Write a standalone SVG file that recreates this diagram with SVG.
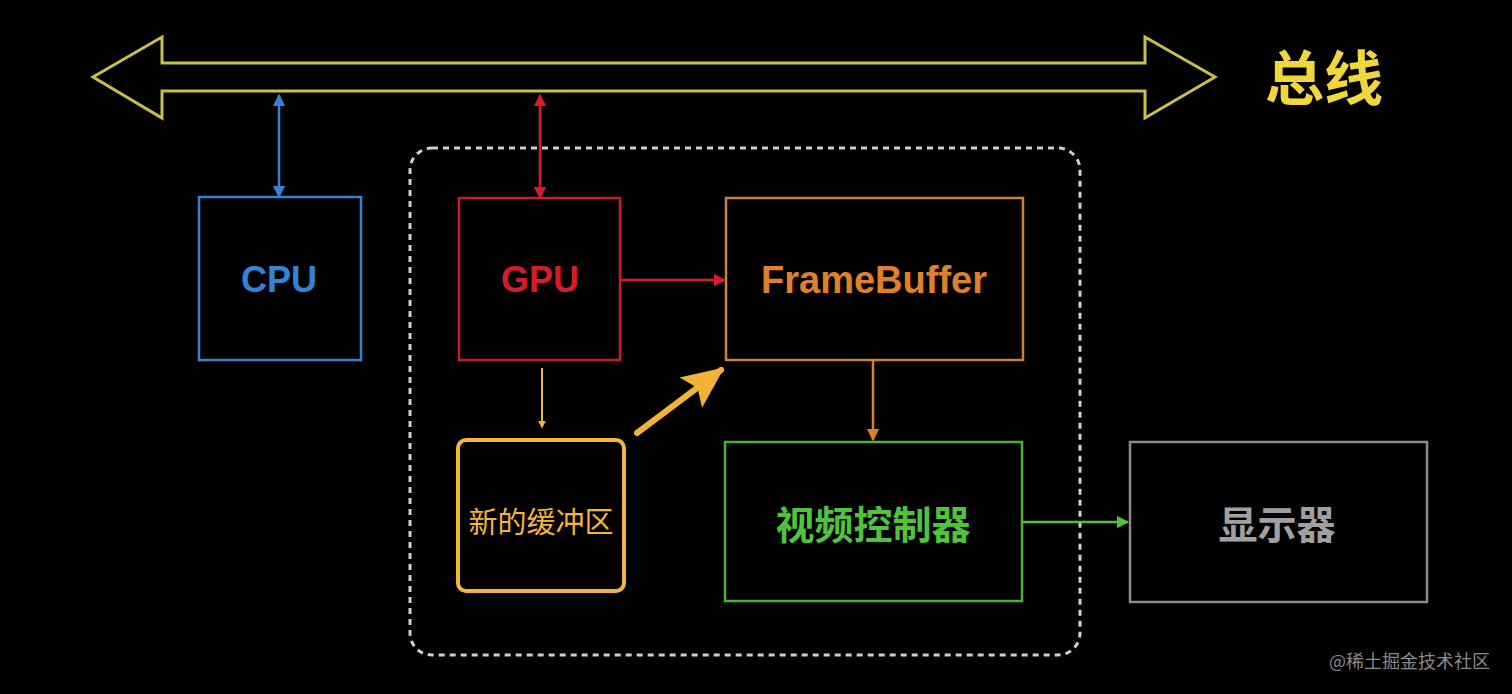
<svg xmlns="http://www.w3.org/2000/svg" width="1512" height="694" viewBox="0 0 1512 694">
<defs>
<style>
.box{fill:none;stroke-width:2.5}
.lbl{font-family:"Liberation Sans","Noto Sans CJK SC",sans-serif;text-anchor:middle;font-weight:bold}
.cjk{font-family:"Noto Sans CJK SC",sans-serif;text-anchor:middle}
</style>
<marker id="ab" viewBox="0 0 10 10" refX="9" refY="5" markerWidth="5" markerHeight="5" orient="auto-start-reverse"><path d="M0,0L10,5L0,10z" fill="#2f82d6"/></marker>
<marker id="ar" viewBox="0 0 10 10" refX="9" refY="5" markerWidth="5" markerHeight="5" orient="auto-start-reverse"><path d="M0,0L10,5L0,10z" fill="#d41d28"/></marker>
<marker id="ao" viewBox="0 0 10 10" refX="9" refY="5" markerWidth="5" markerHeight="5" orient="auto-start-reverse"><path d="M0,0L10,5L0,10z" fill="#e07f2a"/></marker>
<marker id="ag" viewBox="0 0 10 10" refX="9" refY="5" markerWidth="5" markerHeight="5" orient="auto-start-reverse"><path d="M0,0L10,5L0,10z" fill="#4fc43a"/></marker>
<marker id="ay" viewBox="0 0 10 10" refX="9" refY="5" markerWidth="7" markerHeight="7" orient="auto"><path d="M0,0.5L10,5L0,9.5L2,5z" fill="#f2b338"/></marker>
<marker id="ayb" viewBox="0 0 10 10" refX="8" refY="5" markerWidth="4" markerHeight="4" orient="auto"><path d="M0,0L10,5L0,10z" fill="#f5b43a"/></marker>
</defs>
<rect width="1512" height="694" fill="#000"/>
<g id="bus">
<path d="M93,77 L162,37 L162,63 L1145,63 L1145,37 L1215,77 L1145,118 L1145,91 L162,91 L162,118 Z" fill="none" stroke="#c8c04a" stroke-width="3" stroke-linejoin="miter"/>
<text x="1324" y="100" class="cjk" font-size="59" font-weight="bold" fill="#f1d63c">总线</text>
</g>
<g id="group">
<rect x="410" y="148" width="670" height="507" rx="22" fill="none" stroke="#cfcfcf" stroke-width="3" stroke-dasharray="6 5"/>
</g>
<g id="cpu">
<rect class="box" x="199" y="197" width="162" height="163" stroke="#3a7fd0"/>
<text x="279" y="292" class="lbl" font-size="36" fill="#2f86d8">CPU</text>
</g>
<g id="gpu">
<rect class="box" x="459" y="198" width="161" height="162" stroke="#c41e2a"/>
<text x="540" y="292" class="lbl" font-size="36" fill="#d41d28">GPU</text>
</g>
<g id="framebuffer">
<rect class="box" x="726" y="198" width="297" height="162" stroke="#c8823a"/>
<text x="874" y="293" class="lbl" font-size="38" fill="#e0802a">FrameBuffer</text>
</g>
<g id="newbuffer">
<rect x="458" y="440" width="166" height="151" rx="8" fill="none" stroke="#f5b43a" stroke-width="4"/>
<text x="541" y="533" class="cjk" font-size="29" fill="#f5b43a">新的缓冲区</text>
</g>
<g id="videoctrl">
<rect class="box" x="725" y="442" width="297" height="159" stroke="#4caf38"/>
<text x="873" y="539" class="cjk" font-size="39" font-weight="bold" fill="#4fc43a">视频控制器</text>
</g>
<g id="display">
<rect class="box" x="1130" y="442" width="297" height="160" stroke="#8a8a8a"/>
<text x="1277" y="539" class="cjk" font-size="39" font-weight="bold" fill="#a0a0a0">显示器</text>
</g>
<g id="connectors">
<line x1="279" y1="95" x2="279" y2="197" stroke="#2f82d6" stroke-width="2.5" marker-start="url(#ab)" marker-end="url(#ab)"/>
<line x1="540" y1="95" x2="540" y2="198" stroke="#d41d28" stroke-width="2.5" marker-start="url(#ar)" marker-end="url(#ar)"/>
<line x1="620" y1="280" x2="725" y2="280" stroke="#d41d28" stroke-width="2.5" marker-end="url(#ar)"/>
<line x1="542" y1="368" x2="542" y2="427" stroke="#f5b43a" stroke-width="2" marker-end="url(#ayb)"/>
<line x1="637" y1="433" x2="721" y2="370" stroke="#f2b338" stroke-width="6" stroke-linecap="round" marker-end="url(#ay)"/>
<line x1="873" y1="360" x2="873" y2="440" stroke="#e07f2a" stroke-width="2.5" marker-end="url(#ao)"/>
<line x1="1022" y1="522" x2="1128" y2="522" stroke="#4fc43a" stroke-width="2.5" marker-end="url(#ag)"/>
</g>
<text x="1490" y="668" font-family="Noto Sans CJK SC,sans-serif" font-size="18" fill="#8a8a8a" text-anchor="end">@稀土掘金技术社区</text>
</svg>
